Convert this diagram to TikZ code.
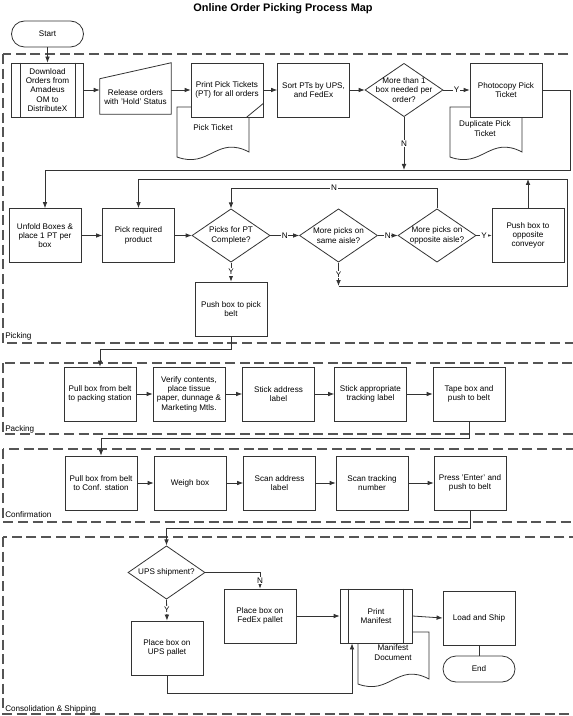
\documentclass[tikz,border=0pt]{standalone}
\usepackage{fontspec}
\setmainfont{Liberation Sans}
\usetikzlibrary{shapes.geometric, arrows.meta, positioning}
\definecolor{lineg}{HTML}{333333}
\definecolor{laneg}{HTML}{555555}

% document sheet with wavy bottom: x0, y0 (top), x1, y1 (bottom left)
\newcommand{\docsheet}[4]{%
  \draw[doc] (#1,#2) -- (#1,#4)
    .. controls ({#1+0.45*(#3-#1)},{#4+12}) and ({#1+0.55*(#3-#1)},{#4-22}) .. (#3,{#4-5})
    -- (#3,#2) -- cycle;}

\begin{document}
\begin{tikzpicture}[x=0.75pt, y=-0.75pt,
    font=\fontsize{6.1}{7}\selectfont,
    proc/.style={draw=lineg, line width=0.6pt, fill=white, minimum width=54pt,
      minimum height=40.5pt, align=center, inner sep=1pt},
    term/.style={proc, rounded corners=9.75pt, minimum height=19.5pt},
    decision/.style={diamond, draw=lineg, line width=0.6pt, fill=white,
      minimum width=58.5pt, minimum height=40pt, inner sep=0pt},
    txt/.style={align=center},
    lbl/.style={fill=white, inner sep=0.6pt},
    arr/.style={draw=lineg, line width=0.6pt, -{Latex[length=4.5pt,width=3.5pt]}},
    conn/.style={draw=lineg, line width=0.6pt},
    doc/.style={draw=lineg, line width=0.6pt, fill=white},
    lane/.style={draw=laneg, line width=0.9pt, dash pattern=on 7.5pt off 3.5pt},
    lanename/.style={anchor=west, inner sep=0pt},
    title/.style={font=\fontsize{8.2}{9}\selectfont\bfseries}]

\useasboundingbox (0,0) rectangle (572,716);

% lanes
\draw[lane] (3,54) rectangle (620,343);
\draw[lane] (3,363) rectangle (620,434);
\draw[lane] (3,449) rectangle (620,522);
\draw[lane] (3,537) rectangle (620,714);
\node[lanename] (lpick) at (5,336) {Picking};
\node[lanename] (lpack) at (5,429) {Packing};
\node[lanename] (lconf) at (5,515) {Confirmation};
\node[lanename] (lship) at (5,709) {Consolidation \& Shipping};

\node[title] (ttl) at (283,9) {Online Order Picking Process Map};

% documents behind the boxes
\docsheet{177}{107}{249}{157}
\docsheet{450}{107}{522}{157}
\docsheet{358}{632}{429}{684}
\node[txt] (pickdoc) at (213,128) {Pick Ticket};
\node[txt] (dupdoc) at (485,128.5) {Duplicate Pick\\Ticket};
\node[txt] (mandoc) at (393,652.5) {Manifest\\Document};

% picking
\node[term] (start) at (47.5,34) {Start};
\node[proc] (download) at (47.5,90) {Download\\Orders from\\Amadeus\\OM to\\DistributeX};
\node[minimum width=53.25pt, minimum height=38.25pt, inner sep=0pt] (rel) at (135.5,88.5) {};
\draw[doc] (rel.south west) -- ([yshift=-12pt]rel.north west) -- (rel.north east)
  -- (rel.south east) -- cycle;
\node[txt] (reltxt) at ([yshift=-6.4pt]rel.center) {Release orders\\with 'Hold' Status};
\node[proc] (print) at (227,90) {Print Pick Tickets\\(PT) for all orders};
\node[proc] (sort) at (313.5,90) {Sort PTs by UPS,\\and FedEx};
\node[decision, label={[txt]center:More than 1\\box needed per\\order?}] (more1) at (404,90) {};
\node[proc] (photo) at (506,90) {Photocopy Pick\\Ticket};

\node[proc] (unfold) at (45,235.5) {Unfold Boxes \&\\place 1 PT per\\box};
\node[proc] (pick) at (138.5,235.5) {Pick required\\product};
\node[decision, label={[txt]center:Picks for PT\\Complete?}] (comp) at (231,235.5) {};
\node[decision, label={[txt]center:More picks on\\same aisle?}] (same) at (338.5,235.5) {};
\node[decision, label={[txt]center:More picks on\\opposite aisle?}] (opp) at (437,235.5) {};
\node[proc] (pushopp) at (528,235.5) {Push box to\\opposite\\conveyor};
\node[proc] (pushbelt) at (231,309) {Push box to pick\\belt};

\foreach \n in {download} {
  \draw[conn] ([xshift=6.75pt]\n.north west) -- ([xshift=6.75pt]\n.south west);
  \draw[conn] ([xshift=-6.75pt]\n.north east) -- ([xshift=-6.75pt]\n.south east);
}
\draw[conn] ([xshift=-12.75pt]print.south east) -- ([yshift=10.5pt]print.south east);

% packing
\node[proc] (pull1) at (100,394) {Pull box from belt\\to packing station};
\node[proc] (verify) at (189,394) {Verify contents,\\place tissue\\paper, dunnage \&\\Marketing Mtls.};
\node[proc] (addr) at (278.5,394) {Stick address\\label};
\node[proc] (track) at (370.5,394) {Stick appropriate\\tracking label};
\node[proc] (tape) at (469,394) {Tape box and\\push to belt};

% confirmation
\node[proc] (pull2) at (101,483) {Pull box from belt\\to Conf. station};
\node[proc] (weigh) at (190,483) {Weigh box};
\node[proc] (scan) at (279.5,483) {Scan address\\label};
\node[proc] (scantr) at (372,483) {Scan tracking\\number};
\node[proc] (enter) at (470,483) {Press 'Enter' and\\push to belt};

% consolidation & shipping
\node[decision, minimum width=57.75pt, label={[txt]center:UPS shipment?}] (ups) at (166.5,572.5) {};
\node[proc] (fedex) at (260,616) {Place box on\\FedEx pallet};
\node[proc] (upsbox) at (167,648) {Place box on\\UPS pallet};
\node[proc] (manifest) at (376,616) {Print\\Manifest};
\node[proc] (load) at (479,618) {Load and Ship};
\node[term] (endn) at (479,669) {End};
\foreach \n in {manifest} {
  \draw[conn] ([xshift=6.75pt]\n.north west) -- ([xshift=6.75pt]\n.south west);
  \draw[conn] ([xshift=-6.75pt]\n.north east) -- ([xshift=-6.75pt]\n.south east);
}

% bends
\coordinate (r1) at (570,170);
\coordinate (r2) at (567,179);
\coordinate (r3) at (567,286);
\coordinate (r4) at (437,188);
\coordinate (r5) at (231,349);
\coordinate (r6) at (469,438);
\coordinate (r7) at (470,528);
\coordinate (r8) at (352,693);

% connectors
\draw[arr] (start) -- (download);
\draw[arr] (download.east) -- (download.east -| rel.west);
\draw[arr] (print.west -| rel.east) -- (print.west);
\draw[arr] (print) -- (sort);
\draw[arr] (sort) -- (more1);
\draw[arr] (more1.east) -- (photo.west) node[midway, lbl] {Y};
\draw[arr] (more1.south) -- (more1.south |- r1) node[midway, lbl] {N};
\draw[arr] (photo.east) -| (r1) -| (unfold.north);

\draw[arr] (unfold) -- (pick);
\draw[arr] (pick) -- (comp);
\draw[arr] (comp.east) -- (same.west) node[midway, lbl] {N};
\draw[arr] (same.east) -- (opp.west) node[midway, lbl] {N};
\draw[arr] (opp.east) -- (pushopp.west) node[midway, lbl] {Y};
\draw[arr] (pushopp.north) -- (pushopp.north |- r2);
\draw[arr] (same.south) -- (same.south |- r3) node[midway, lbl] {Y};
\draw[arr] (same.south |- r3) -- (r3) -- (r2) -| (pick.north);
\draw[arr] (opp.north) -- (r4) -| (comp.north) node[pos=0.25, lbl] {N};
\draw[arr] (comp.south) -- (pushbelt.north) node[midway, lbl] {Y};
\draw[arr] (pushbelt.south) -- (r5) -| (pull1.north);

\draw[arr] (pull1) -- (verify);
\draw[arr] (verify) -- (addr);
\draw[arr] (addr) -- (track);
\draw[arr] (track) -- (tape);
\draw[arr] (tape.south) -- (r6) -| (pull2.north);

\draw[arr] (pull2) -- (weigh);
\draw[arr] (weigh) -- (scan);
\draw[arr] (scan) -- (scantr);
\draw[arr] (scantr) -- (enter);
\draw[arr] (enter.south) -- (r7) -| (ups.north);

\draw[arr] (ups.east) -| (fedex.north) node[pos=0.75, lbl] {N};
\draw[arr] (ups.south) -- (upsbox.north) node[midway, lbl] {Y};
\draw[arr] (upsbox.south) |- (r8) -- (r8 |- manifest.south);
\draw[arr] (fedex.east) -- (manifest.west);
\draw[arr] (manifest.east) -- (load.west);
\draw[conn] (load.south) -- (endn.north);
\end{tikzpicture}
\end{document}
